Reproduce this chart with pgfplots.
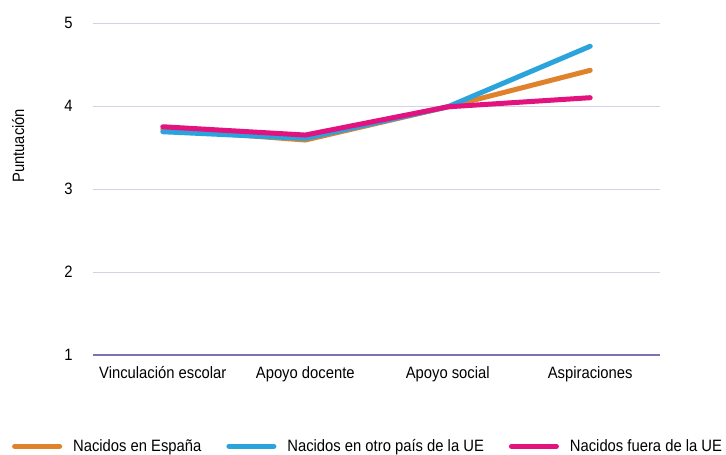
\documentclass[border=0pt]{standalone}
\usepackage{pgfplots}
\pgfplotsset{compat=1.18}
\usepackage{fontspec}
\setmainfont[FakeStretch=0.9]{Liberation Sans}
\definecolor{cEsp}{HTML}{E0812C}
\definecolor{cUE}{HTML}{2BA3DD}
\definecolor{cFuera}{HTML}{E2127E}
\definecolor{gridc}{HTML}{D4D0E8}
\definecolor{basec}{HTML}{7C72B8}
\newcommand{\lblfont}{\fontsize{16.5}{18}\selectfont}
\begin{document}
\begin{tikzpicture}
\useasboundingbox (-93bp,-100bp) rectangle (633bp,355bp);
\begin{axis}[
  scale only axis,
  width=567bp, height=332bp,
  xmin=-0.49, xmax=3.49,
  ymin=1, ymax=5,
  xtick={0,1,2,3},
  xticklabels={Vinculación escolar,Apoyo docente,Apoyo social,Aspiraciones},
  ytick={1,2,3,4,5},
  axis line style={draw=none},
  tick style={draw=none},
  ymajorgrids,
  grid style={gridc, line width=1bp},
  extra y ticks={1},
  extra y tick labels={},
  extra y tick style={grid style={basec, line width=1.3bp}},
  tick label style={font=\lblfont, text=black},
  /pgf/number format/assume math mode=true,
  yticklabel style={xshift=-17bp},
  xticklabel style={yshift=-8bp},
  ylabel={Puntuación},
  ylabel style={font=\lblfont, at={(rel axis cs:-0.132,0.63)}, anchor=center},
  legend columns=3,
  legend style={draw=none, fill=none, font=\lblfont,
    at={(rel axis cs:-0.143,-0.275)}, anchor=west,
    /tikz/every even column/.append style={column sep=23bp},
    /tikz/every odd column/.append style={column sep=9bp},
    inner sep=0pt},
  legend image code/.code={\draw[#1, line width=5bp, line cap=round] (0bp,0bp) -- (45bp,0bp);},
  every axis plot/.append style={line width=5bp, line cap=round, line join=round},
]
\addplot[cEsp] coordinates {(0,3.72) (1,3.59) (2,3.99) (3,4.43)};
\addplot[cUE] coordinates {(0,3.69) (1,3.61) (2,3.99) (3,4.72)};
\addplot[cFuera] coordinates {(0,3.75) (1,3.65) (2,3.99) (3,4.10)};
\legend{Nacidos en España,Nacidos en otro país de la UE\hspace{10bp},Nacidos fuera de la UE}
\end{axis}
\end{tikzpicture}
\end{document}
